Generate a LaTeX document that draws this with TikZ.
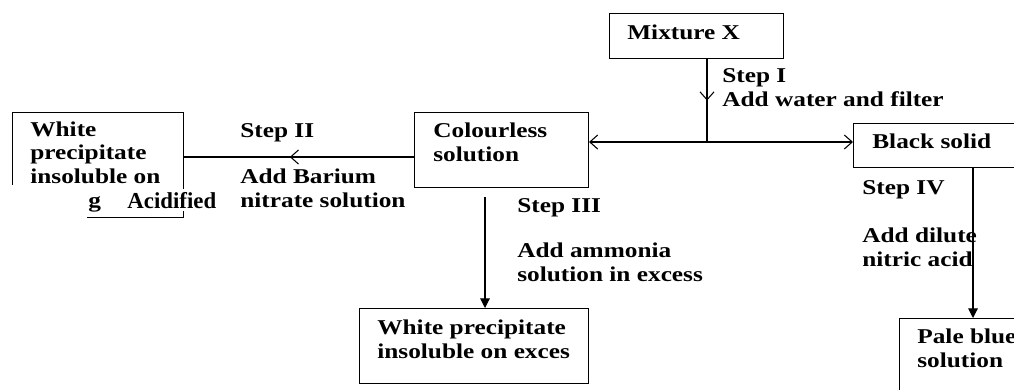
\documentclass[tikz,border=0pt]{standalone}
\usepackage{fontspec}
\newfontfamily\flowfont{Liberation Serif}[FakeStretch=1.2]
\newfontfamily\patchfont{Liberation Serif}
\usetikzlibrary{positioning, arrows.meta, decorations.markings}

\tikzset{
  box/.style={draw, line width=0.6pt, anchor=north west, inner sep=0pt},
  lbl/.style={anchor=base west, inner sep=0pt, align=left,
              font=\flowfont\bfseries\fontsize{12}{13.1}\selectfont},
  flow/.style={line width=0.6pt},
  barb/.style={flow, -{Straight Barb[length=4.5pt, width=8pt]}},
  filltip/.style={flow, -{Triangle[length=5.5pt, width=5.5pt]}},
  midarrow/.style={flow, postaction={decorate},
    decoration={markings, mark=at position #1 with
      {\arrow{Straight Barb[length=4.5pt, width=8pt]}}}}
}

\begin{document}
\begin{tikzpicture}[x=0.02cm, y=-0.02cm]
  \path[use as bounding box, clip] (0,0) rectangle (1014,389);

  % boxes
  \node[box, minimum width=3.48cm, minimum height=0.9cm] (mixX) at (609,13) {};
  \node[box, minimum width=3.48cm, minimum height=1.5cm] (colourless) at (414,112) {};
  \node[box, minimum width=3.42cm, minimum height=2.1cm] (leftbox) at (12,112) {};
  \node[box, minimum width=4cm, minimum height=0.88cm] (blacksolid) at (853,123) {};
  \node[box, minimum width=4.58cm, minimum height=1.5cm] (pptexcess) at (359,308) {};
  \node[box, minimum width=3cm, minimum height=2cm] (paleblue) at (899,318) {};

  \coordinate (split) at (707,142);
  \coordinate (stepIIrow) at (300,157);
  \coordinate (stepIIIstart) at (485,197);
  \coordinate (stepIVcol) at (973,200);

  % connectors
  \draw[midarrow=0.5] (mixX.south -| split) -- (split);
  \draw[barb] (split) -- (colourless.east |- split);
  \draw[barb] (split) -- (blacksolid.west |- split);
  \draw[midarrow=0.54] (colourless.west |- stepIIrow) -- (leftbox.east |- stepIIrow);
  \draw[filltip] (stepIIIstart) -- (stepIIIstart |- pptexcess.north);
  \draw[filltip] (blacksolid.south -| stepIVcol) -- (paleblue.north -| stepIVcol);

  % texts (base = last line)
  \node[lbl] (mixXtext) at (627,39) {Mixture X};
  \node[lbl] (stepI) at (722,106) {Step I\\Add water and filter};
  \node[lbl] (blacktext) at (872,148) {Black solid};
  \node[lbl] (colourtext) at (433,161) {Colourless\\solution};
  \node[lbl] (lefttext) at (30,183) {White\\precipitate\\insoluble on};
  \node[lbl] (stepII) at (240,207) {Step II\\[0.46cm]Add Barium\\nitrate solution};
  \node[lbl] (stepIII) at (517,281) {Step III\\[0.44cm]Add ammonia\\solution in excess};
  \node[lbl] (excesstext) at (377,358) {White precipitate\\insoluble on exces};
  \node[lbl] (stepIV) at (862,266) {Step IV\\[0.5cm]Add dilute\\nitric acid};
  \node[lbl] (paletext) at (917,367) {Pale blue\\solution};

  % pasted-over corner of the left box
  \fill[white] (0,185) rectangle (87,240);
  \node[lbl] (lefttail) at (88,207) {g};
  \node[anchor=base west, fill=white, inner xsep=4pt, inner ysep=1.5pt,
        font=\patchfont\bfseries\fontsize{13}{15}\selectfont] (acidified) at (120,208) {Acidified};
\end{tikzpicture}
\end{document}
